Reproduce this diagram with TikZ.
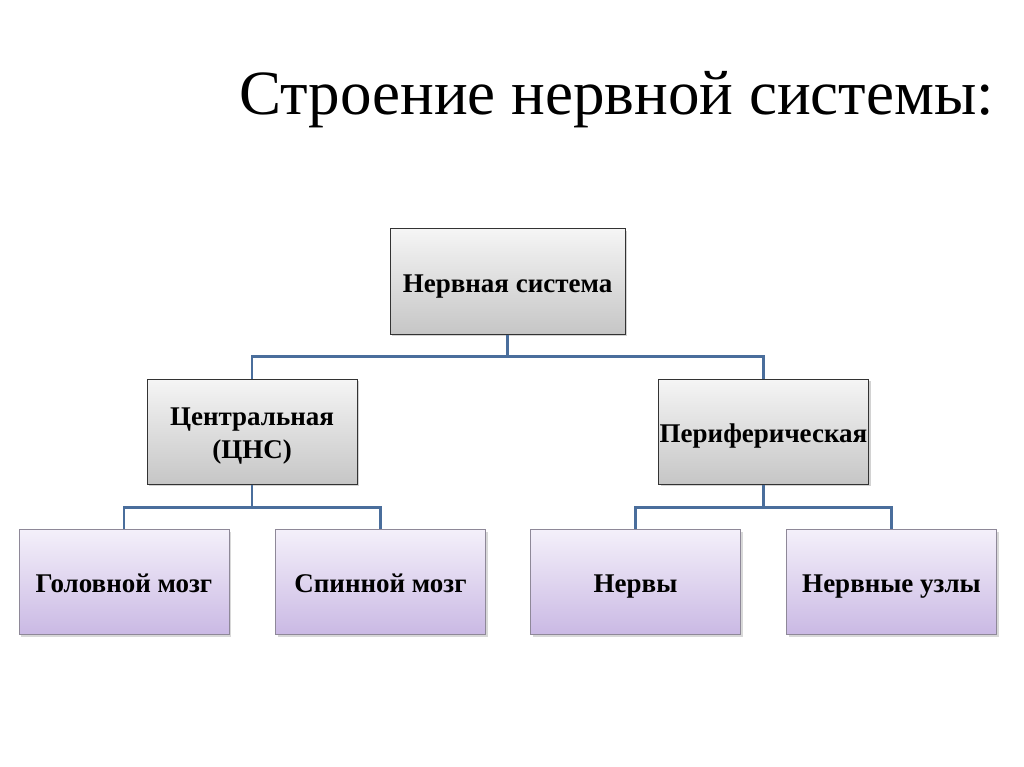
\documentclass[tikz,border=0pt]{standalone}
\usepackage{fontspec}
\setmainfont{Liberation Serif}
\usetikzlibrary{shadows}
\definecolor{linkblue}{HTML}{4A6E9C}
\definecolor{graytop}{HTML}{F5F5F5}
\definecolor{graybot}{HTML}{C6C6C6}
\definecolor{purptop}{HTML}{F4F0FA}
\definecolor{purpbot}{HTML}{CAB9E4}
\definecolor{purpedge}{HTML}{8E8898}
\newcommand\tstrut{\rule{0pt}{31pt}}
\tikzset{
  boxtext/.style={align=center, inner sep=0pt, minimum width=210pt, minimum height=105pt,
    font=\fontsize{27}{33}\selectfont\bfseries},
  graybox/.style={boxtext, draw=black!80, line width=1pt, top color=graytop, bottom color=graybot,
    drop shadow={shadow xshift=2pt, shadow yshift=-2pt, opacity=0.35}},
  purpbox/.style={boxtext, draw=purpedge, line width=1pt, top color=purptop, bottom color=purpbot,
    drop shadow={shadow xshift=2pt, shadow yshift=-2pt, opacity=0.3}},
  link/.style={draw=linkblue, line width=2.6pt}
}
\begin{document}
\begin{tikzpicture}[x=1pt,y=-1pt]
\useasboundingbox[fill=white] (0,0) rectangle (1024,767);
\node[font=\fontsize{63}{66}\selectfont, anchor=center] (title) at (616.5,100) {Строение нервной системы:};
\node[graybox, minimum width=235pt] (ns) at (507.5,281.5) {\tstrut Нервная система\strut};
\node[graybox] (cns) at (252,431.5) {\tstrut Центральная\\(ЦНС)\strut};
\node[graybox] (pns) at (763.5,431.5) {\tstrut Периферическая\strut};
\node[purpbox] (brain) at (124,582) {\tstrut Головной мозг\strut};
\node[purpbox] (spine) at (380.5,582) {\tstrut Спинной мозг\strut};
\node[purpbox] (nerves) at (635.5,582) {\tstrut Нервы\strut};
\node[purpbox] (ganglia) at (891.5,582) {\tstrut Нервные узлы\strut};
\draw[link] (ns.south) -- ++(0,22) -| (cns.north);
\draw[link] (ns.south) -- ++(0,22) -| (pns.north);
\draw[link] (cns.south) -- ++(0,23) -| (brain.north);
\draw[link] (cns.south) -- ++(0,23) -| (spine.north);
\draw[link] (pns.south) -- ++(0,23) -| (nerves.north);
\draw[link] (pns.south) -- ++(0,23) -| (ganglia.north);
\end{tikzpicture}
\end{document}
